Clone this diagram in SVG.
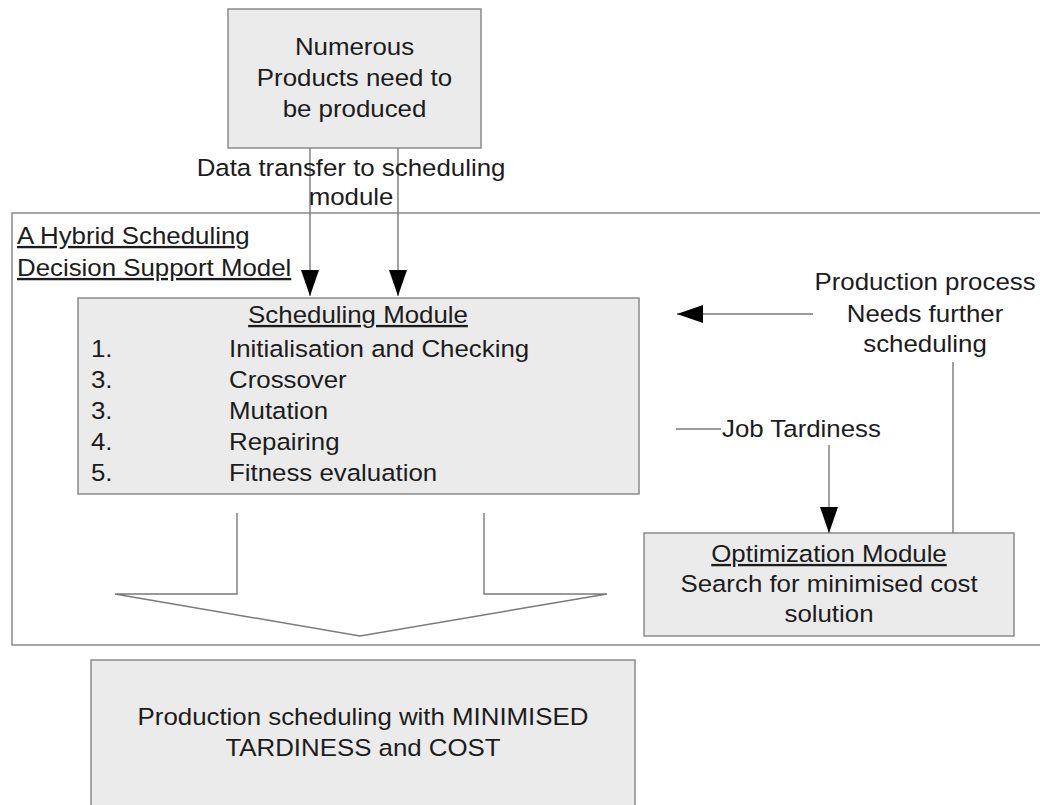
<svg xmlns="http://www.w3.org/2000/svg" width="1040" height="805" viewBox="0 0 1040 805">
  <style>
    .box { fill: #ebebeb; stroke: #8a8a8a; stroke-width: 1.5; }
    .frame { fill: none; stroke: #8a8a8a; stroke-width: 1.5; }
    .wire { fill: none; stroke: #7a7a7a; stroke-width: 1.4; }
    .t { font-family: "Liberation Sans", Arial, sans-serif; font-size: 23.5px; fill: #1c1c1c; }
    .c { text-anchor: middle; }
    .u { text-decoration: underline; }
  </style>
  <defs>
    <marker id="head" markerUnits="userSpaceOnUse" markerWidth="26" markerHeight="18" refX="26" refY="9" orient="auto">
      <path d="M0,0 L26,9 L0,18 Z" fill="#000"/>
    </marker>
  </defs>

  <rect width="1040" height="805" fill="#fff"/>

  <!-- outer model frame (open to the right) -->
  <g id="model-frame">
    <rect class="frame" x="12" y="213" width="1040" height="432"/>
    <text class="t u" transform="translate(17 244) scale(1.1 1)">A Hybrid Scheduling</text>
    <text class="t u" transform="translate(17 276) scale(1.1 1)">Decision Support Model</text>
  </g>

  <!-- products input -->
  <g id="products">
    <rect class="box" x="228" y="9" width="253" height="139"/>
    <text class="t c" transform="translate(354.5 55) scale(1.1 1)">Numerous</text>
    <text class="t c" transform="translate(354.5 86) scale(1.1 1)">Products need to</text>
    <text class="t c" transform="translate(354.5 117) scale(1.1 1)">be produced</text>
  </g>

  <!-- scheduling module -->
  <g id="scheduling-module">
    <rect class="box" x="78" y="298" width="561" height="196"/>
    <text class="t c u" transform="translate(358 323) scale(1.1 1)">Scheduling Module</text>
    <text class="t" transform="translate(91 357) scale(1.1 1)">1.</text>
    <text class="t" transform="translate(229 357) scale(1.1 1)">Initialisation and Checking</text>
    <text class="t" transform="translate(91 388) scale(1.1 1)">3.</text>
    <text class="t" transform="translate(229 388) scale(1.1 1)">Crossover</text>
    <text class="t" transform="translate(91 419) scale(1.1 1)">3.</text>
    <text class="t" transform="translate(229 419) scale(1.1 1)">Mutation</text>
    <text class="t" transform="translate(91 450) scale(1.1 1)">4.</text>
    <text class="t" transform="translate(229 450) scale(1.1 1)">Repairing</text>
    <text class="t" transform="translate(91 481) scale(1.1 1)">5.</text>
    <text class="t" transform="translate(229 481) scale(1.1 1)">Fitness evaluation</text>
  </g>

  <!-- optimization module -->
  <g id="optimization-module">
    <rect class="box" x="644" y="533" width="370" height="103"/>
    <text class="t c u" transform="translate(829 562) scale(1.1 1)">Optimization Module</text>
    <text class="t c" transform="translate(829 592) scale(1.1 1)">Search for minimised cost</text>
    <text class="t c" transform="translate(829 622) scale(1.1 1)">solution</text>
  </g>

  <!-- final result -->
  <g id="result">
    <rect class="box" x="91" y="660" width="544" height="160"/>
    <text class="t c" transform="translate(363 725) scale(1.1 1)">Production scheduling with MINIMISED</text>
    <text class="t c" transform="translate(363 756) scale(1.1 1)">TARDINESS and COST</text>
  </g>

  <!-- connectors -->
  <g id="connectors">
    <line class="wire" x1="310" y1="148" x2="310" y2="296" marker-end="url(#head)"/>
    <line class="wire" x1="398" y1="148" x2="398" y2="296" marker-end="url(#head)"/>
    <text class="t c" transform="translate(351 176) scale(1.1 1)">Data transfer to scheduling</text>
    <text class="t c" transform="translate(351 205) scale(1.1 1)">module</text>

    <line class="wire" x1="813" y1="314" x2="677" y2="314" marker-end="url(#head)"/>
    <text class="t c" transform="translate(925 290) scale(1.1 1)">Production process</text>
    <text class="t c" transform="translate(925 322) scale(1.1 1)">Needs further</text>
    <text class="t c" transform="translate(925 352) scale(1.1 1)">scheduling</text>
    <line class="wire" x1="953" y1="362" x2="953" y2="533"/>

    <line class="wire" x1="676" y1="429" x2="721" y2="429"/>
    <text class="t" transform="translate(722 437) scale(1.1 1)">Job Tardiness</text>
    <line class="wire" x1="829" y1="445" x2="829" y2="533" marker-end="url(#head)"/>

    <!-- wide outline arrow into the result -->
    <polyline class="wire" points="237,513 237,594 115,594 360,636 607,594 484,594 484,513"/>
  </g>
</svg>
